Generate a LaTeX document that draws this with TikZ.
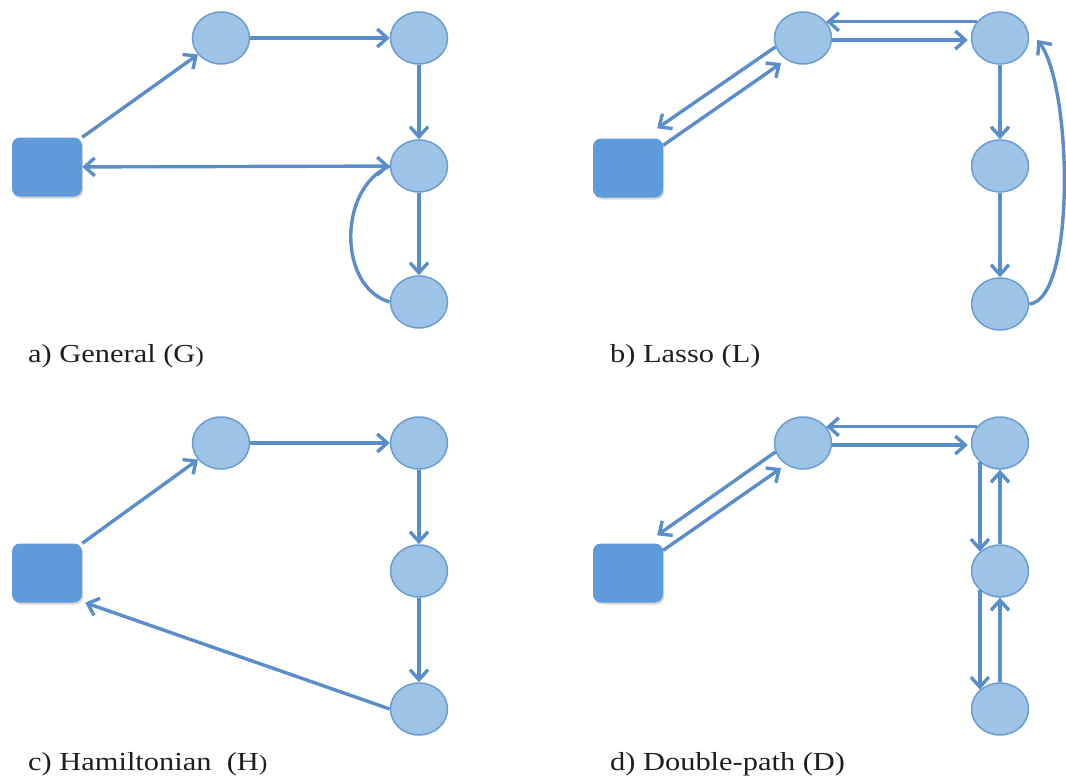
\documentclass[tikz,border=0pt]{standalone}
\usepackage{fontspec}
\setmainfont{Liberation Serif}
\usetikzlibrary{arrows.meta,shapes.geometric,shadows}
\definecolor{edgeblue}{HTML}{5A8ECA}
\definecolor{nodefill}{HTML}{9DC3E6}
\definecolor{nodeline}{HTML}{6A9DD2}
\definecolor{hubfill}{HTML}{5F9BDB}
\definecolor{captext}{HTML}{1E1E1E}
\begin{document}
\begin{tikzpicture}[x=1pt,y=-1pt,
  state/.style={ellipse, draw=nodeline, fill=nodefill, line width=1.5pt,
    minimum width=57pt, minimum height=52pt, inner sep=0pt},
  hub/.style={rectangle, rounded corners=8pt, fill=hubfill,
    minimum width=70pt, minimum height=59pt, inner sep=0pt,
    drop shadow={shadow xshift=1.2pt, shadow yshift=-2pt, fill=black, opacity=0.15}},
  link/.style={draw=edgeblue, line width=3.4pt},
  arr/.style={link, -{Straight Barb[length=10pt,width=18pt]}},
  biarr/.style={link, {Straight Barb[length=10pt,width=18pt]}-{Straight Barb[length=10pt,width=18pt]}},
  caption/.style={anchor=base west, inner sep=0pt, text=captext,
    font=\fontsize{26}{30}\selectfont},
]
\useasboundingbox (0,0) rectangle (1066,776);

% ---- a) General
\node[hub]   (sqA) at (47,167)  {};
\node[state] (A1)  at (221,38)  {};
\node[state] (A2)  at (419,38)  {};
\node[state] (A3)  at (419,166) {};
\node[state] (A4)  at (419,302) {};
\draw[arr]   (sqA.north east) -- (A1);
\draw[arr]   (A1) -- (A2);
\draw[arr]   (A2) -- (A3);
\draw[arr]   (A3) -- (A4);
\draw[biarr] (sqA) -- (A3);
\draw[link]  (A4.west) .. controls +(-52,-15) and +(-52,22) .. (A3.west);
\node[caption] (capA) at (28,362) {\scalebox{1.17}[1]{a) General (G{\fontsize{22}{26}\selectfont)}}};

% ---- b) Lasso
\node[hub]   (sqB) at (628,168) {};
\node[state] (B1)  at (803,38)  {};
\node[state] (B2)  at (1000,38) {};
\node[state] (B3)  at (1000,166) {};
\node[state] (B4)  at (1000,304) {};
\draw[arr] (B1.198) -- ([shift={(-6,-10)}]sqB.north east);
\draw[arr, shorten >=6pt] ([shift={(0,7)}]sqB.north east) -- (B1.232);
\draw[arr] (B2.145) -- (B1.35);
\draw[arr, shorten >=3pt] (B1.-4) -- (B2.184);
\draw[arr] (B2) -- (B3);
\draw[arr] (B3) -- (B4);
\draw[arr] (B4.east) .. controls +(47,-4) and +(35,45) .. ([shift={(8,2)}]B2.east);
\node[caption] (capB) at (610,362) {\scalebox{1.17}[1]{b) Lasso (L)}};

% ---- c) Hamiltonian
\node[hub]   (sqC) at (47,573)  {};
\node[state] (C1)  at (221,443) {};
\node[state] (C2)  at (419,443) {};
\node[state] (C3)  at (419,571) {};
\node[state] (C4)  at (419,709) {};
\draw[arr] (sqC.north east) -- (C1);
\draw[arr] (C1) -- (C2);
\draw[arr] (C2) -- (C3);
\draw[arr] (C3) -- (C4);
\draw[arr] (C4.west) -- ([shift={(3,0)}]sqC.south east);
\node[caption] (capC) at (28,770) {\scalebox{1.17}[1]{c) Hamiltonian\ \ (H{\fontsize{22}{26}\selectfont)}}};

% ---- d) Double-path
\node[hub]   (sqD) at (628,573) {};
\node[state] (D1)  at (803,443) {};
\node[state] (D2)  at (1000,443) {};
\node[state] (D3)  at (1000,571) {};
\node[state] (D4)  at (1000,709) {};
\draw[arr] (D1.198) -- ([shift={(-6,-8)}]sqD.north east);
\draw[arr, shorten >=6pt] ([shift={(0,7)}]sqD.north east) -- (D1.232);
\draw[arr] (D2.145) -- (D1.35);
\draw[arr, shorten >=3pt] (D1.-4) -- (D2.184);
\draw[arr] (D2.224) -- (D3.136);
\draw[arr] (D3.224) -- (D4.136);
\draw[arr] (D3) -- (D2);
\draw[arr] (D4) -- (D3);
\node[caption] (capD) at (610,770) {\scalebox{1.17}[1]{d) Double-path (D)}};
\end{tikzpicture}
\end{document}
